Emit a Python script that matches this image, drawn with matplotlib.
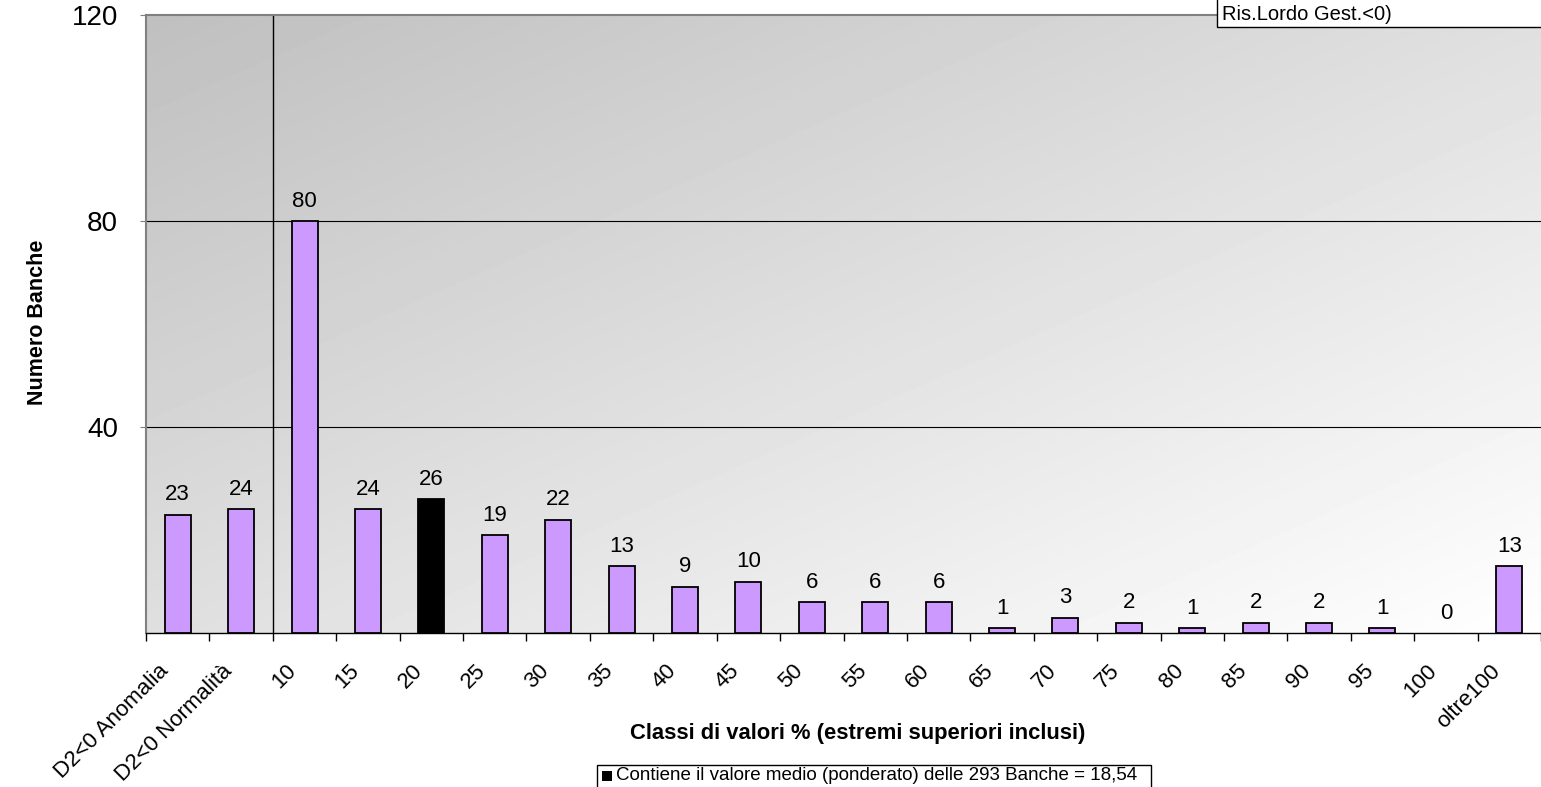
import matplotlib.pyplot as plt
import matplotlib.transforms as mtransforms
import numpy as np

plt.rcParams['font.family'] = ['Liberation Sans', 'DejaVu Sans']

# classi di valori e numero di banche per classe
classi = ['D2<0 Anomalia', 'D2<0 Normalità', '10', '15', '20', '25', '30', '35', '40',
          '45', '50', '55', '60', '65', '70', '75', '80', '85', '90', '95', '100', 'oltre100']
banche = [23, 24, 80, 24, 26, 19, 22, 13, 9, 10, 6, 6, 6, 1, 3, 2, 1, 2, 2, 1, 0, 13]
classe_media = '20'

fig = plt.figure(figsize=(15.41, 7.87), dpi=100)
ax = fig.add_axes([146 / 1541, 1 - 633 / 787, 1 - 146 / 1541, (633 - 15) / 787])

n = len(classi)
x = np.arange(n)

# sfondo sfumato grigio -> bianco
gx, gy = np.meshgrid(np.linspace(0, 1, 300), np.linspace(1, 0, 200))
g = 0.5 * (gx + (1 - gy))
g = 0.75 + 0.25 * g
ax.imshow(g, cmap='gray', vmin=0, vmax=1, extent=[-0.5, n - 0.5, 0, 120],
          aspect='auto', zorder=0, interpolation='bilinear')

colori = ['black' if c == classe_media else '#CC99FF' for c in classi]
bordi = [1.3 if v > 0 else 0 for v in banche]
ax.bar(x, banche, width=0.41, color=colori, edgecolor='black', linewidth=bordi, zorder=3)

for xi, v in zip(x, banche):
    ax.text(xi, v + 1.8, str(v), ha='center', va='bottom', fontsize=16, zorder=4)

ax.set_xlim(-0.5, n - 0.5)
ax.set_ylim(0, 120)

for yv in [40, 80]:
    ax.axhline(yv, color='black', linewidth=0.8, zorder=1)
ax.axvline(1.5, color='black', linewidth=1.0, zorder=1)

ax.set_yticks([40, 80, 120])
ax.tick_params(axis='y', labelsize=20, length=4, color='#808080', pad=16)

ax.set_xticks(x)
ax.set_xticklabels(classi, rotation=45, ha='right', va='center',
                   rotation_mode='anchor', fontsize=16)
ax.set_xticks(np.arange(-0.5, n, 1), minor=True)
ax.tick_params(axis='x', which='major', length=0, pad=25)
ax.tick_params(axis='x', which='minor', length=6, color='black', width=1)
sposta = mtransforms.ScaledTranslation(-12 / 100, 0, fig.dpi_scale_trans)
for lab in ax.get_xticklabels():
    lab.set_transform(lab.get_transform() + sposta)

for s in ['top', 'left']:
    ax.spines[s].set_color('#808080')
    ax.spines[s].set_linewidth(1.5)
ax.spines['right'].set_visible(False)
ax.spines['bottom'].set_color('black')
ax.spines['bottom'].set_linewidth(1.0)

fig.text(38 / 1541, 1 - 322 / 787, 'Numero Banche', rotation=90, ha='center', va='center',
         fontsize=15.5, fontweight='bold')
fig.text(858 / 1541, 1 - 733 / 787, 'Classi di valori % (estremi superiori inclusi)',
         ha='center', va='center', fontsize=15.8, fontweight='bold')

# riquadro legenda in alto a destra
fig.patches.append(plt.Rectangle((1217 / 1541, 1 - 27 / 787), 1, 0.2, transform=fig.transFigure,
                                 facecolor='white', edgecolor='black', linewidth=1.0, zorder=5))
fig.text(1222 / 1541, 1 - 14 / 787, 'Ris.Lordo Gest.<0)', ha='left', va='center',
         fontsize=14.5, zorder=6)

# riquadro nota classe media
fig.patches.append(plt.Rectangle((597 / 1541, -0.1), (1151 - 597) / 1541, 0.1 + 22 / 787,
                                 transform=fig.transFigure, facecolor='white',
                                 edgecolor='black', linewidth=1.0, zorder=5))
fig.patches.append(plt.Rectangle((602 / 1541, 1 - 781 / 787), 10 / 1541, 10 / 787,
                                 transform=fig.transFigure, facecolor='black',
                                 edgecolor='none', zorder=6))
fig.text(616 / 1541, 1 - 776 / 787,
         'Contiene il valore medio (ponderato) delle 293 Banche = 18,54',
         ha='left', va='center', fontsize=13.5, zorder=6)

fig.savefig('out.png', dpi=100)
